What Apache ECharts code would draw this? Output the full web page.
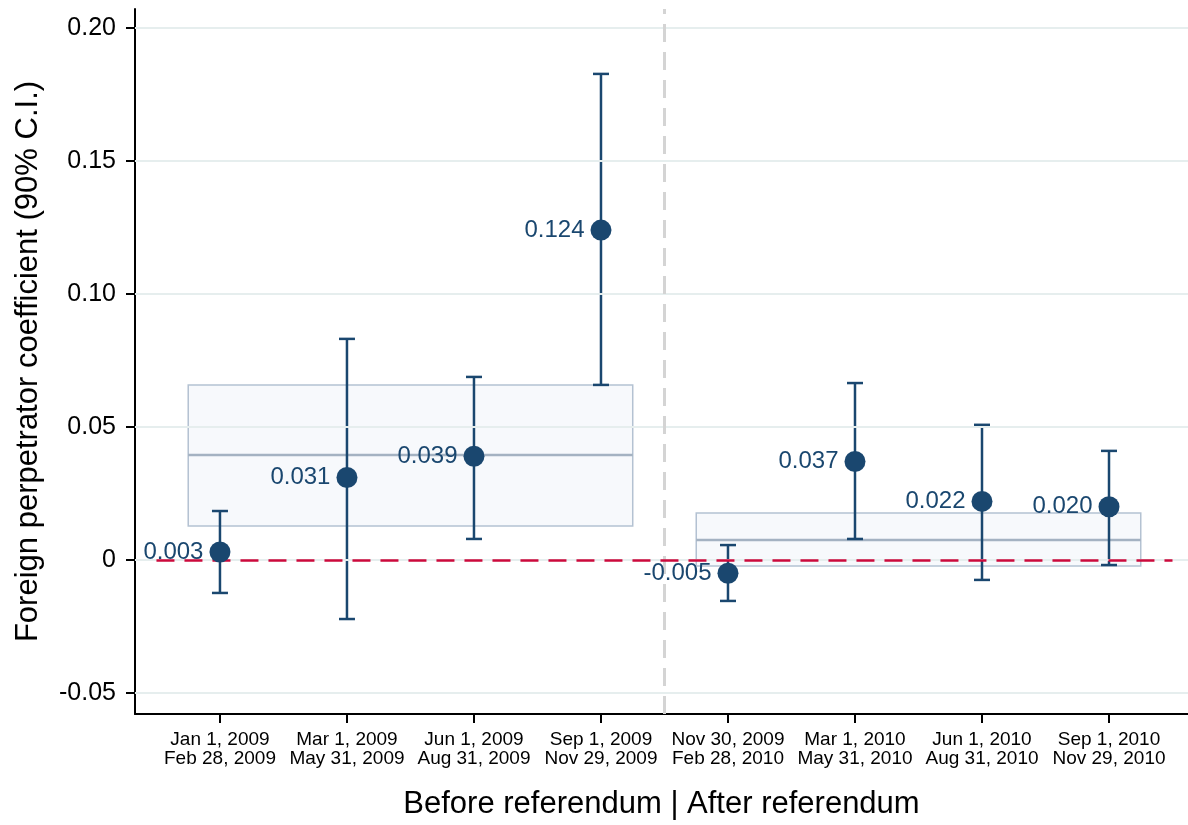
<!DOCTYPE html>
<html><head><meta charset="utf-8">
<script src="https://cdn.jsdelivr.net/npm/echarts@6/dist/echarts.min.js"></script>
<style>html,body{margin:0;padding:0;background:#fff}#c{width:1188px;height:825px}</style>
</head><body><div id="c"></div>
<script>
const periodStart = ['Jan 1, 2009','Mar 1, 2009','Jun 1, 2009','Sep 1, 2009','Nov 30, 2009','Mar 1, 2010','Jun 1, 2010','Sep 1, 2010'];
const periodEnd = ['Feb 28, 2009','May 31, 2009','Aug 31, 2009','Nov 29, 2009','Feb 28, 2010','May 31, 2010','Aug 31, 2010','Nov 29, 2010'];
const coef = [0.003, 0.031, 0.039, 0.124, -0.005, 0.037, 0.022, 0.020];
const ciLow = [-0.0124, -0.0222, 0.0079, 0.0658, -0.0154, 0.0079, -0.0075, -0.0019];
const ciHigh = [0.0184, 0.0831, 0.0688, 0.1827, 0.0056, 0.0665, 0.0508, 0.0410];
const yTicks = [-0.05, 0, 0.05, 0.10, 0.15, 0.20];
// pooled estimates: [xStart, xEnd, mean, low, high]
const poolBefore = [0.75, 4.25, 0.0395, 0.0128, 0.0658];
const poolAfter = [4.75, 8.25, 0.0075, -0.0023, 0.0177];
const referendumX = 4.5;

const navy = '#1a476f';
const xPos = coef.map((_, i) => i + 1);
const chart = echarts.init(document.getElementById('c'));
const font = 'Liberation Sans, Arial, sans-serif';

chart.setOption({
  animation: false,
  grid: {left: 135, right: 0, top: 9, bottom: 110},
  xAxis: {
    type: 'value', min: 0.331, max: 8.622,
    name: 'Before referendum | After referendum', nameLocation: 'middle', nameGap: 75,
    nameTextStyle: {fontSize: 31, color: '#000', fontFamily: font},
    axisLine: {onZero: false, lineStyle: {color: '#000', width: 2}},
    axisTick: {customValues: xPos, length: 9, lineStyle: {color: '#000', width: 2}},
    axisLabel: {customValues: xPos, margin: 16, fontSize: 19, lineHeight: 19, color: '#000', fontFamily: font,
      formatter: v => { const i = Math.round(v) - 1; return periodStart[i] + '\n' + periodEnd[i]; }},
    splitLine: {show: false}
  },
  yAxis: {
    type: 'value', min: -0.0579, max: 0.2071,
    name: 'Foreign perpetrator coefficient (90% C.I.)', nameLocation: 'middle', nameGap: 91,
    nameTextStyle: {fontSize: 31, color: '#000', fontFamily: font},
    axisLine: {show: true, onZero: false, lineStyle: {color: '#000', width: 2}},
    axisTick: {show: true, customValues: yTicks, length: 9, lineStyle: {color: '#000', width: 2}},
    axisLabel: {customValues: yTicks, margin: 19, fontSize: 25, color: '#000', fontFamily: font,
      formatter: v => { if (Math.abs(v) < 1e-9) return '0'; return v.toFixed(2); }},
    splitLine: {show: false}
  },
  series: [
    { // grid lines
      type: 'line', data: [], silent: true,
      markLine: {symbol: 'none', silent: true, label: {show: false},
        lineStyle: {color: '#e6eeee', width: 2, type: 'solid'},
        data: yTicks.map(t => ({yAxis: t}))}
    },
    { // pooled boxes
      type: 'custom', silent: true, z: 2,
      data: [poolBefore, poolAfter],
      renderItem: (params, api) => {
        const p0 = api.coord([api.value(0), api.value(4)]);
        const p1 = api.coord([api.value(1), api.value(3)]);
        const m0 = api.coord([api.value(0), api.value(2)]);
        const m1 = api.coord([api.value(1), api.value(2)]);
        return {type: 'group', children: [
          {type: 'rect', shape: {x: p0[0], y: p0[1], width: p1[0] - p0[0], height: p1[1] - p0[1]},
           style: {fill: '#f7f9fc', stroke: '#b4c2d2', lineWidth: 1.5}},
          {type: 'line', shape: {x1: m0[0], y1: m0[1], x2: m1[0], y2: m1[1]},
           style: {stroke: '#a4b2c2', lineWidth: 2.5}}
        ]};
      }
    },
    { // referendum line + zero line
      type: 'line', data: [], silent: true, z: 3,
      markLine: {symbol: 'none', silent: true, label: {show: false},
        data: [
          {xAxis: referendumX, lineStyle: {color: '#d4d4d4', width: 3, type: [18, 10]}},
          [{coord: [0.5, 0], lineStyle: {color: '#cc0a3c', width: 2.5, type: [18, 10]}}, {coord: [8.5, 0]}]
        ]}
    },
    { // error bars
      type: 'custom', silent: true, z: 4,
      data: xPos.map((x, i) => [x, ciLow[i], ciHigh[i]]),
      renderItem: (params, api) => {
        const lo = api.coord([api.value(0), api.value(1)]);
        const hi = api.coord([api.value(0), api.value(2)]);
        const w = 8;
        const st = {stroke: navy, lineWidth: 2.5};
        return {type: 'group', children: [
          {type: 'line', shape: {x1: lo[0], y1: lo[1], x2: hi[0], y2: hi[1]}, style: st},
          {type: 'line', shape: {x1: lo[0] - w, y1: lo[1], x2: lo[0] + w, y2: lo[1]}, style: st},
          {type: 'line', shape: {x1: hi[0] - w, y1: hi[1], x2: hi[0] + w, y2: hi[1]}, style: st}
        ]};
      }
    },
    { // point estimates
      type: 'scatter', z: 5, symbol: 'circle', symbolSize: 21,
      itemStyle: {color: navy, opacity: 1},
      data: xPos.map((x, i) => [x, coef[i]]),
      label: {show: true, position: 'left', distance: 6, fontSize: 24, color: navy, opacity: 1, fontFamily: font,
        formatter: p => coef[p.dataIndex].toFixed(3)}
    }
  ]
});
</script></body></html>
